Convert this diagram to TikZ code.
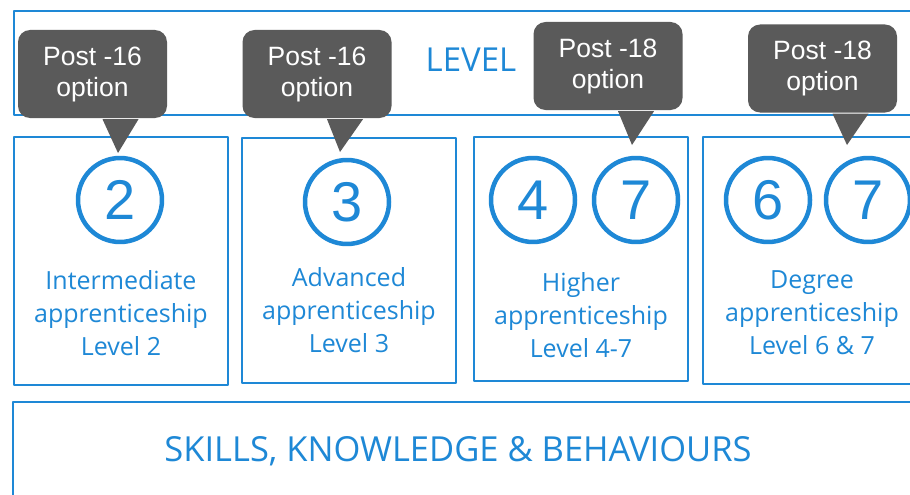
\documentclass[tikz,border=0pt]{standalone}
\usepackage{fontspec}
\setmainfont{Open Sans}
\newfontfamily\tipfont{Liberation Sans}
\usetikzlibrary{calc}
\definecolor{lvlblue}{RGB}{30,136,214}
\definecolor{tipgray}{RGB}{90,90,90}
\begin{document}
\begin{tikzpicture}[x=1pt,y=-1pt,line join=round,
    frame/.style={draw=lvlblue,line width=2.4pt},
    ring/.style={circle,draw=lvlblue,line width=4.5pt,minimum size=84pt,inner sep=0pt,
      text=lvlblue,font=\tipfont\fontsize{56}{56}\selectfont},
    tipbox/.style={fill=tipgray,rounded corners=12pt,minimum width=149pt,minimum height=88pt,
      inner sep=0pt,text=white,align=center,font=\tipfont\fontsize{26.5}{31}\selectfont},
    boxtext/.style={text=lvlblue,align=center,font=\fontsize{25}{33}\selectfont}]
  \useasboundingbox (0,0) rectangle (910,495);
  \clip (0,0) rectangle (910,495);
  \fill[white] (0,0) rectangle (910,495);

  % frames
  \draw[frame] (14,11) rectangle (920,115);
  \draw[frame] (14,137) rectangle (228,385);
  \draw[frame] (242,138) rectangle (456,383);
  \draw[frame] (474,137) rectangle (688,381);
  \draw[frame] (703,137) rectangle (920,384);
  \draw[frame] (13,402) rectangle (920,500);

  \node[text=lvlblue,font=\fontsize{33}{33}\selectfont] (lvl) at (471,60) {LEVEL};
  \node[text=lvlblue,font=\fontsize{34.5}{34.5}\selectfont] (ksb) at (458,451)
    {SKILLS, KNOWLEDGE \& BEHAVIOURS};

  % rings
  \node[ring] (r2) at (120,200) {2};
  \node[ring] (r3) at (347,202) {3};
  \node[ring] (r4) at (533,200) {4};
  \node[ring] (r7a) at (636,200) {7};
  \node[ring] (r6) at (768,200) {6};
  \node[ring] (r7b) at (868,200) {7};

  \node[boxtext] (t2) at (121,313) {Intermediate\\apprenticeship\\Level 2};
  \node[boxtext] (t3) at (349,310) {Advanced\\apprenticeship\\Level 3};
  \node[boxtext] (t47) at (581,315) {Higher\\apprenticeship\\Level 4-7};
  \node[boxtext] (t67) at (812,313) {Degree\\apprenticeship\\Level 6 \& 7};

  % callouts
  \node[tipbox] (c1) at (92.5,74) {Post -16\\option};
  \node[tipbox] (c2) at (317,74) {Post -16\\option};
  \node[tipbox] (c3) at (608,66) {Post -18\\option};
  \node[tipbox] (c4) at (822.5,68.5) {Post -18\\option};
  \coordinate (p1) at (118,153);
  \coordinate (p2) at (340,152);
  \coordinate (p3) at (632,145);
  \coordinate (p4) at (847,145);
  \foreach \c/\p in {c1/p1,c2/p2,c3/p3,c4/p4}
    \fill[tipgray] ($(\c.south)+(10,1)$) -- (\p) -- ($(\c.south)+(46,1)$) -- cycle;
\end{tikzpicture}
\end{document}
